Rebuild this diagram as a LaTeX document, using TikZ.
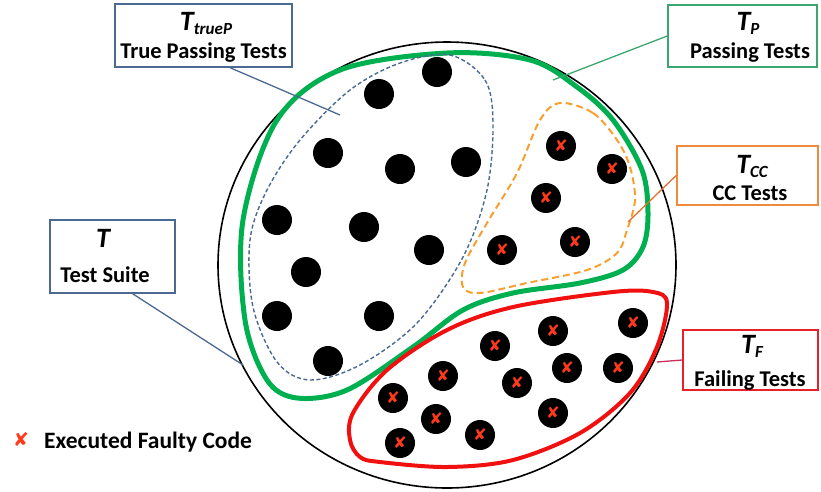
\documentclass[tikz,border=0pt]{standalone}
\usepackage{fontspec}
\setmainfont{Carlito}
\newfontfamily\symfont{DejaVu Sans}
\usetikzlibrary{calc}
\definecolor{bgray}{HTML}{4A6A92}
\definecolor{tgreen}{HTML}{00B050}
\definecolor{lgreen}{HTML}{3DA66E}
\definecolor{torange}{HTML}{F7A030}
\definecolor{borange}{HTML}{F08A3C}
\definecolor{lorange}{HTML}{E57030}
\definecolor{tred}{HTML}{F01010}
\definecolor{bred}{HTML}{E8202A}
\definecolor{lred}{HTML}{C8305A}
\definecolor{xred}{HTML}{FF3A1A}
\newcommand{\tsym}[1]{{\fontsize{28}{28}\selectfont\bfseries\itshape T}\raisebox{-4pt}{\fontsize{17}{17}\selectfont\bfseries\itshape #1}}
\begin{document}
\begin{tikzpicture}[x=1pt,y=-1pt,
  lbox/.style={draw, line width=1.6pt, fill=white, inner sep=0pt},
  ttl/.style={anchor=base, inner sep=0pt},
  lbl/.style={anchor=base, inner sep=0pt, font=\fontsize{22.5}{23}\selectfont\bfseries},
  dot/.style={circle, fill=black, minimum size=30pt, inner sep=0pt},
  xdot/.style={circle, fill=black, minimum size=30pt, inner sep=0pt, text=xred, font=\symfont\fontsize{16}{16}\selectfont},
  conn/.style={line width=1.3pt}
]
\useasboundingbox (0,0) rectangle (821,491);

% outer circle (test suite)
\draw[line width=1.6pt] (447,265) ellipse [x radius=229, y radius=223];

% passing tests (green)
\draw[tgreen, line width=5pt] plot[smooth cycle, tension=0.55] coordinates {
 (447,53) (530,60) (577,87) (613,120) (642,170) (648,213) (643,247) (623,270)
 (580,283) (513,293) (463,310) (413,347) (347,390) (297,398) (267,380)
 (245,320) (243,220) (277,120) (340,70)};

% true passing (blue dashed)
\draw[bgray, line width=1.4pt, dash pattern=on 4pt off 2.5pt] plot[smooth cycle, tension=0.55] coordinates {
 (450,55) (485,80) (493,123) (487,190) (463,257) (417,323) (360,365) (310,380)
 (277,362) (253,307) (250,240) (267,190) (300,140) (350,90) (400,63)};

% CC tests (orange dashed)
\draw[torange, line width=2pt, dash pattern=on 7pt off 4pt] plot[smooth cycle, tension=0.55] coordinates {
 (560,103) (593,113) (617,140) (630,167) (635,200) (627,230) (617,253) (587,270)
 (527,283) (480,293) (463,287) (465,263) (487,223) (517,173) (540,120)};

% failing tests (red)
\draw[tred, line width=4pt] plot[smooth cycle, tension=0.55] coordinates {
 (380,462) (447,467) (513,460) (580,433) (630,393) (657,347) (667,303) (653,292)
 (613,292) (513,307) (447,330) (387,370) (353,413) (350,440) (360,457)};

% passing dots
\foreach \p [count=\i] in {(437,72),(379,94),(328,153),(400,169),(466,162),(277,220),(364,227),(429,250),(306,272),(277,316),(379,316),(328,361)}
  \node[dot] (p\i) at \p {};

% CC dots
\foreach \p [count=\i] in {(561,146),(612,169),(546,198),(502,250),(575,242)}
  \node[xdot] (c\i) at \p {✘};

% failing dots
\foreach \p [count=\i] in {(633,323),(553,331),(495,346),(567,368),(618,368),(443,376),(517,383),(393,398),(436,419),(553,413),(480,435),(400,443)}
  \node[xdot] (f\i) at \p {✘};

% label boxes
\node[lbox, draw=bgray, minimum width=177pt, minimum height=63pt] (btrue) at (203.5,35.5) {};
\node[ttl] (btrue-t) at (206,30) {\tsym{trueP}};
\node[lbl] (btrue-l) at (203.5,58) {True Passing Tests};

\node[lbox, draw=lgreen, minimum width=149pt, minimum height=62pt] (bp) at (742.5,36) {};
\node[ttl] (bp-t) at (748,30) {\tsym{P}};
\node[lbl] (bp-l) at (750,58) {Passing Tests};

\node[lbox, draw=borange, minimum width=141pt, minimum height=59pt] (bcc) at (747.5,175.5) {};
\node[ttl] (bcc-t) at (752,173) {\tsym{CC}};
\node[lbl] (bcc-l) at (750,200) {CC Tests};

\node[lbox, draw=bgray, minimum width=125pt, minimum height=73pt] (bt) at (112.5,256.5) {};
\node[ttl] (bt-t) at (103,247) {\tsym{}};
\node[lbl] (bt-l) at (105,282) {Test Suite};

\node[lbox, draw=bred, minimum width=135pt, minimum height=60pt] (bf) at (750.5,360) {};
\node[ttl] (bf-t) at (752,353) {\tsym{F}};
\node[lbl] (bf-l) at (750,386) {Failing Tests};

% connector ends
\coordinate (etrue) at (340,115);
\coordinate (ep) at (553,80);
\coordinate (ecc) at (628,222);
\coordinate (et) at (243,365);
\coordinate (ef) at (657,362);

\draw[conn, bgray] ($(btrue.south west)!0.65!(btrue.south east)$) -- (etrue);
\draw[conn, lgreen] (bp.west) -- (ep);
\draw[conn, lorange] (bcc.west) -- (ecc);
\draw[conn, bgray] ($(bt.south west)!0.66!(bt.south east)$) -- (et);
\draw[conn, lred] (bf.west) -- (ef);

% legend
\node[text=xred, font=\symfont\fontsize{19}{19}\selectfont, inner sep=0pt] (lx) at (21,439) {✘};
\node[lbl, anchor=base west] (ltext) at (44,448) {\fontsize{23.5}{24}\selectfont Executed Faulty Code};
\end{tikzpicture}
\end{document}
